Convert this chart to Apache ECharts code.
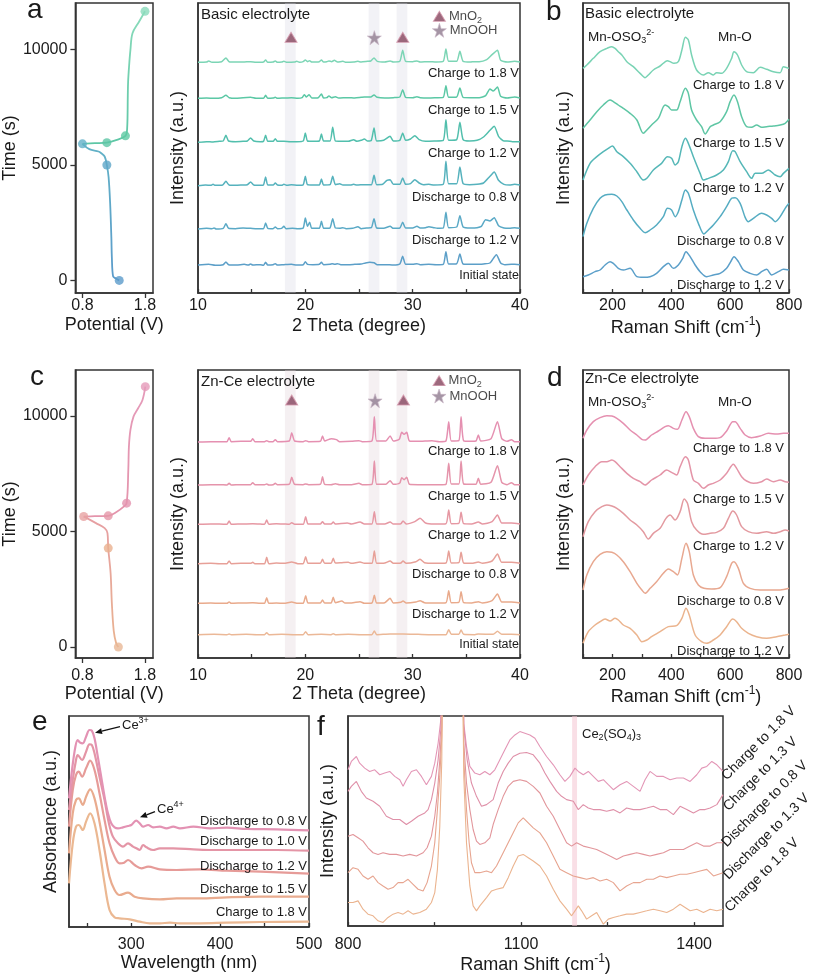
<!DOCTYPE html>
<html><head><meta charset="utf-8">
<script src="https://cdn.jsdelivr.net/npm/echarts/dist/echarts.min.js"></script>
<style>html,body{margin:0;padding:0;background:#fff}#c{width:813px;height:975px}</style>
</head><body><div id="c"></div>
<script>
// ---------------- DATA ----------------
// Panel a / c : potential (V) vs time (s)
const potA_discharge = [[1.388,0],[1.33,90],[1.29,173],[1.27,1000],[1.262,1873],[1.243,3314],[1.218,4467],[1.19,4990],[1.155,5360],[1.10,5500],[1.057,5576],[0.91,5677],[0.8,5907]];
const potA_charge = [[0.8,5907],[1.0,5935],[1.19,5960],[1.35,6080],[1.487,6253],[1.515,6600],[1.525,8000],[1.53,8600],[1.545,9250],[1.567,9970],[1.60,10690],[1.7,11170],[1.8,11640]];
const potA_points = [[1.388,0],[1.19,4990],[0.8,5907],[1.19,5960],[1.487,6253],[1.8,11640]];
const potC_discharge = [[1.374,0],[1.34,150],[1.30,700],[1.27,1900],[1.25,3200],[1.212,4278],[1.20,4926],[1.155,5143],[1.016,5359],[0.87,5575],[0.82,5644]];
const potC_charge = [[0.82,5644],[1.0,5660],[1.212,5674],[1.35,5850],[1.45,6050],[1.506,6223],[1.533,7662],[1.543,8670],[1.567,9390],[1.616,9965],[1.69,10327],[1.76,10687],[1.805,11262]];
const potC_points = [[1.374,0],[1.212,4278],[0.82,5644],[1.212,5674],[1.506,6223],[1.805,11262]];

// XRD labels (bottom -> top)
const xrdLabels = ['Initial state','Discharge to 1.2 V','Discharge to 0.8 V','Charge to 1.2 V','Charge to 1.5 V','Charge to 1.8 V'];
// Panel a XRD (Basic electrolyte): [2theta, intensity above own baseline]
const xrdA_offsets = [82,190,320,450,582,690];
const xrdA_initial = [[10,2],[11.0,4],[11.6,1],[12.35,3],[12.6,11],[12.85,3],[13.6,2],[14.3,4],[14.7,2],[14.9,5],[15.1,2],[15.8,3],[16.1,1],[16.3,10],[16.5,2],[17.0,3],[17.2,6],[17.4,2],[18.0,3],[18.7,4],[19.2,2],[19.8,3],[20.0,12],[20.2,4],[20.7,3],[21.3,4],[21.5,10],[21.7,3],[22.3,4],[22.5,6],[22.75,4],[23.0,6],[23.3,3],[24.0,3],[24.6,4],[25.2,5],[25.6,8],[26.0,10],[26.4,9],[26.7,3],[27.5,3],[28.2,2],[28.8,5],[29.07,28],[29.35,4],[30.0,4],[30.4,6],[30.7,3],[31.5,4],[32.2,3],[32.85,4],[33.1,42],[33.35,5],[34.1,6],[34.4,35],[34.7,5],[35.5,4],[36.3,4],[36.6,5],[37.2,8],[37.8,33],[38.2,8],[38.6,3],[39.2,4],[39.5,4],[40,3]];
const xrdA_dis12 = [[10,2],[10.8,4],[11.3,3],[11.5,5],[11.7,2],[12.35,4],[12.6,18],[12.85,4],[13.5,3],[14.2,5],[14.9,4],[15.5,3],[16.1,3],[16.3,20],[16.5,4],[17.0,3],[17.2,8],[17.4,3],[17.8,4],[18.0,10],[18.2,3],[18.8,4],[19.3,3],[19.8,5],[20.0,35],[20.2,10],[20.4,22],[20.6,4],[21.3,4],[21.5,25],[21.7,4],[22.0,4],[22.3,5],[22.55,33],[22.8,5],[23.2,4],[23.5,6],[23.8,3],[24.4,4],[24.9,9],[25.2,3],[25.7,5],[26.15,6],[26.4,33],[26.65,5],[27.3,4],[27.9,10],[28.2,4],[28.8,5],[29.07,22],[29.35,5],[30.0,5],[30.4,10],[30.7,5],[31.2,6],[31.5,9],[32.0,6],[32.3,4],[32.85,5],[33.1,52],[33.35,6],[34.1,8],[34.4,42],[34.7,8],[35.4,5],[36.0,6],[36.4,10],[36.8,30],[37.2,26],[37.6,36],[38.0,12],[38.5,5],[39.0,4],[39.5,6],[40,4]];
const xrdA_dis08 = [[10,2],[10.7,4],[11.2,3],[11.4,6],[11.6,3],[12.3,4],[12.6,15],[12.9,4],[13.5,3],[14.1,4],[14.6,5],[14.9,13],[15.2,4],[15.8,3],[16.1,4],[16.3,28],[16.5,4],[17.0,4],[17.2,10],[17.4,4],[17.8,3],[18.0,6],[18.3,3],[18.7,5],[19.3,3],[19.8,5],[20.0,30],[20.2,5],[20.7,4],[21.3,4],[21.5,22],[21.7,4],[22.3,5],[22.55,30],[22.8,5],[23.2,8],[23.5,4],[24.2,4],[24.5,6],[24.8,4],[25.5,5],[26.15,5],[26.4,33],[26.65,5],[27.2,6],[27.6,18],[27.9,20],[28.2,6],[28.8,6],[29.07,25],[29.35,6],[29.8,8],[30.2,20],[30.6,10],[31.0,5],[31.5,6],[32.0,4],[32.85,6],[33.1,75],[33.35,8],[34.1,8],[34.4,58],[34.7,8],[35.3,5],[36.0,6],[36.6,10],[37.2,30],[37.6,43],[38.0,18],[38.5,6],[39.0,4],[39.5,6],[40,4]];
const xrdA_ch12 = [[10,2],[10.8,4],[11.4,3],[12.0,5],[12.35,6],[12.6,23],[12.85,6],[13.5,4],[14.2,5],[14.6,6],[14.9,15],[15.2,6],[15.8,4],[16.1,5],[16.3,23],[16.5,5],[17.0,5],[17.2,13],[17.4,5],[18.0,5],[18.6,4],[19.2,4],[19.8,6],[20.0,30],[20.2,6],[20.7,5],[21.3,6],[21.5,27],[21.7,6],[22.3,6],[22.55,47],[22.8,6],[23.3,5],[24.0,5],[24.5,10],[24.8,5],[25.2,8],[25.5,12],[25.8,6],[26.15,8],[26.4,45],[26.65,6],[27.3,8],[27.9,20],[28.2,6],[28.8,8],[29.07,30],[29.35,8],[29.8,12],[30.2,22],[30.6,10],[31.2,5],[32.0,6],[32.85,8],[33.1,70],[33.35,8],[34.1,10],[34.4,62],[34.7,10],[35.3,6],[36.0,8],[36.6,18],[37.2,38],[37.6,50],[38.0,20],[38.5,6],[38.8,6],[39.3,4],[40,4]];
const xrdA_ch15 = [[10,2],[10.8,3],[11.5,2],[12.2,4],[12.6,11],[12.9,4],[13.5,2],[14.2,4],[14.9,5],[15.4,2],[16.1,2],[16.3,11],[16.5,2],[17.0,3],[17.2,5],[17.4,2],[18.0,3],[18.7,4],[19.3,2],[19.7,4],[19.9,13],[20.1,6],[20.35,13],[20.6,3],[21.2,4],[21.5,15],[21.7,3],[22.0,4],[22.2,9],[22.45,4],[22.8,7],[23.1,3],[24.0,4],[24.6,3],[25.2,5],[25.5,6],[26.1,6],[26.4,12],[26.7,5],[27.4,3],[28.2,4],[28.8,6],[29.07,28],[29.35,5],[30.0,4],[30.4,7],[30.7,4],[31.5,3],[32.2,4],[32.85,5],[33.1,40],[33.35,5],[34.1,6],[34.4,33],[34.7,5],[35.4,4],[36.2,4],[36.8,10],[37.2,30],[37.5,24],[37.9,36],[38.2,8],[38.8,3],[39.5,6],[40,3]];
const xrdA_ch18 = [[10,2],[10.8,3],[11.0,6],[11.3,2],[12.2,4],[12.6,15],[12.9,4],[13.5,3],[14.2,3],[14.9,4],[15.4,2],[16.1,3],[16.3,9],[16.5,2],[17.0,3],[17.2,6],[17.4,2],[17.8,3],[18.0,5],[18.3,2],[19.0,3],[19.2,5],[19.5,2],[19.8,4],[20.0,9],[20.2,4],[20.4,7],[20.6,3],[21.3,4],[21.5,9],[21.7,3],[22.0,4],[22.2,6],[22.45,4],[22.7,8],[23.0,3],[23.5,5],[23.8,2],[24.5,3],[24.9,5],[25.2,3],[25.8,5],[26.1,6],[26.4,15],[26.7,5],[27.4,3],[27.9,6],[28.2,3],[28.8,5],[29.07,38],[29.35,5],[30.0,4],[30.4,6],[30.7,3],[31.5,4],[32.2,3],[32.85,5],[33.1,42],[33.35,5],[34.1,5],[34.4,35],[34.7,5],[35.4,3],[35.7,4],[36.2,4],[36.9,10],[37.4,25],[37.9,38],[38.2,8],[38.8,3],[39.5,5],[40,3]];
// Panel c XRD (Zn-Ce electrolyte)
const xrdC_offsets = [69,162,281,399,517,646];
const xrdC_initial = [[10,1],[11.5,2],[12.7,1],[12.9,3],[13.1,1],[14.5,2],[15.5,1],[16.2,1],[16.4,7],[16.6,1],[17.8,2],[19.0,1],[19.8,1],[20.03,10],[20.25,1],[21.5,2],[22.4,1],[22.6,4],[22.8,1],[24.0,2],[25.2,1],[26.2,1],[26.43,12],[26.65,1],[27.9,3],[29.1,3],[30.5,2],[31.8,1],[33.1,1],[33.36,16],[33.6,2],[34.3,2],[34.51,15],[34.75,2],[35.8,1],[36.1,3],[37.5,2],[37.9,11],[38.3,2],[39.2,2],[40,1]];
const xrdC_dis12 = [[10,2],[11.2,3],[12.0,2],[12.7,2],[12.9,6],[13.1,2],[14.0,3],[15.1,4],[15.8,2],[16.2,2],[16.4,19],[16.6,2],[17.3,3],[18.0,2],[18.73,6],[19.3,2],[19.8,2],[20.03,25],[20.25,3],[21.0,3],[21.4,3],[21.6,12],[21.8,3],[22.4,3],[22.6,20],[22.8,4],[23.4,9],[23.7,3],[24.3,3],[25.1,7],[25.5,2],[26.2,3],[26.43,26],[26.65,3],[27.4,4],[27.9,17],[28.2,3],[28.9,5],[29.1,9],[29.4,3],[30.3,6],[30.69,10],[31.1,4],[32.0,3],[33.1,4],[33.36,40],[33.6,4],[34.3,5],[34.51,37],[34.75,4],[35.5,3],[36.12,7],[36.5,3],[37.4,10],[37.9,30],[38.3,6],[39.2,6],[40,3]];
const xrdC_dis08 = [[10,2],[11.2,3],[12.0,2],[12.7,2],[12.9,10],[13.1,2],[14.0,3],[14.9,3],[15.1,6],[15.3,2],[16.2,2],[16.4,21],[16.6,2],[17.3,4],[18.0,3],[18.73,7],[19.3,2],[19.8,2],[20.03,23],[20.25,3],[21.0,3],[21.4,3],[21.6,15],[21.8,3],[22.4,3],[22.6,18],[22.8,4],[23.4,5],[24.0,6],[24.3,3],[25.1,7],[25.5,3],[26.2,3],[26.43,40],[26.65,3],[27.4,4],[27.9,10],[28.2,3],[28.9,4],[29.1,10],[29.4,3],[30.3,8],[30.69,15],[31.1,5],[32.0,3],[33.1,4],[33.36,40],[33.6,4],[34.3,5],[34.51,36],[34.75,4],[35.5,3],[36.12,7],[36.5,3],[37.4,10],[37.9,31],[38.3,6],[39.2,6],[40,3]];
const xrdC_ch12 = [[10,2],[11.2,3],[12.0,3],[12.7,2],[12.9,12],[13.1,2],[14.0,3],[15.1,4],[15.8,3],[16.2,2],[16.4,15],[16.6,2],[17.3,4],[18.0,3],[18.5,2],[18.73,7],[19.0,2],[19.8,2],[20.03,25],[20.25,3],[21.0,3],[21.4,3],[21.6,10],[21.8,3],[22.4,3],[22.6,9],[22.8,3],[23.9,6],[24.3,3],[25.1,9],[25.5,3],[26.2,3],[26.43,40],[26.65,3],[27.4,3],[27.9,9],[28.2,3],[28.9,4],[29.1,12],[29.4,3],[30.2,10],[30.69,20],[31.2,6],[32.0,3],[33.1,4],[33.36,45],[33.6,4],[34.3,5],[34.51,38],[34.75,4],[35.5,3],[36.12,9],[36.5,3],[37.4,10],[37.9,30],[38.3,6],[39.2,6],[40,3]];
const xrdC_ch15 = [[10,2],[11.2,3],[12.0,3],[12.7,2],[12.9,7],[13.1,2],[14.0,3],[14.9,3],[15.1,9],[15.3,3],[16.2,3],[16.4,5],[16.6,2],[17.0,3],[17.2,7],[17.4,3],[18.5,4],[18.73,25],[19.0,4],[19.8,3],[20.03,5],[20.3,3],[21.4,4],[21.6,27],[21.8,4],[22.4,3],[22.8,6],[23.2,3],[24.3,3],[25.0,7],[25.3,3],[26.2,4],[26.43,74],[26.65,4],[27.5,4],[27.9,15],[28.2,4],[28.8,8],[28.98,24],[29.2,18],[29.45,25],[29.7,4],[30.5,3],[31.5,3],[32.5,3],[33.1,4],[33.36,67],[33.6,5],[34.3,5],[34.51,74],[34.75,5],[35.5,4],[35.9,4],[36.12,22],[36.35,4],[37.3,10],[37.9,60],[38.3,10],[38.8,3],[39.2,9],[39.5,3],[40,3]];
const xrdC_ch18 = [[10,2],[11.2,3],[12.0,3],[12.7,3],[12.9,15],[13.1,3],[14.0,4],[14.9,4],[15.1,12],[15.3,3],[16.2,3],[16.4,6],[16.6,3],[17.0,3],[17.2,9],[17.4,3],[18.5,5],[18.73,30],[19.0,5],[19.8,3],[20.03,6],[20.3,3],[21.4,4],[21.6,20],[21.8,5],[22.2,10],[22.4,12],[22.9,9],[23.2,3],[24.3,4],[25.0,6],[25.3,3],[26.2,5],[26.43,78],[26.65,5],[27.5,5],[27.9,20],[28.2,5],[28.75,10],[28.98,31],[29.2,25],[29.45,31],[29.7,5],[30.5,4],[31.8,6],[32.5,3],[33.1,5],[33.36,63],[33.6,5],[34.3,6],[34.51,78],[34.75,6],[35.5,4],[35.9,5],[36.12,23],[36.35,5],[37.3,12],[37.9,63],[38.3,12],[38.8,4],[39.2,9],[39.5,3],[40,3]];
// Phase markers (2theta)
const mno2PeaksA = [[18.67,767],[29.08,767]];
const mnoohPeaksA = [[26.43,766]];
const mno2PeaksC = [[18.73,774],[29.14,774]];
const mnoohPeaksC = [[26.5,772]];

// Raman (panels b, d), top -> bottom labels
const ramanLabels = ['Charge to 1.8 V','Charge to 1.5 V','Charge to 1.2 V','Discharge to 0.8 V','Discharge to 1.2 V'];
const ramB_C18_x = [100,113,135,158,181,198,209,220,232,249,271,294,311,322,339,362,387,396,409,424,436,448,458,469,486,509,526,543,554,571,588,605,613,625,639,656,679,702,724,747,770,781,800];
const ramB_C18_y = [674,684,704,724,734,739,734,724,714,694,679,659,646,654,669,681,697,694,689,694,729,767,759,714,669,654,661,654,661,659,674,704,724,714,684,664,661,677,671,664,661,679,674];
const ramB_C15_x = [100,124,147,169,192,203,220,237,260,283,305,317,333,356,379,390,401,418,430,448,458,469,486,503,515,532,543,566,588,600,613,625,639,656,673,690,707,724,747,770,787,800];
const ramB_C15_y = [494,519,544,564,579,574,564,554,539,519,479,489,504,524,564,559,549,549,574,614,599,549,519,499,477,499,504,514,544,574,594,574,529,499,497,504,497,499,501,504,509,521];
const ramB_C12_x = [100,124,147,169,186,200,215,237,260,283,305,317,339,367,387,401,413,424,436,448,458,475,498,509,526,554,577,594,609,617,634,656,673,685,707,730,753,770,781,800];
const ramB_C12_y = [339,389,409,424,434,441,424,409,389,364,339,344,369,389,409,404,384,394,439,464,449,409,359,339,344,354,369,394,427,424,394,364,344,359,359,369,354,349,359,374];
const ramB_D08_x = [100,113,135,158,175,198,215,232,249,271,294,311,328,350,373,387,401,413,424,436,448,458,475,492,511,526,543,566,588,605,617,634,651,662,679,707,724,741,753,770,787,800];
const ramB_D08_y = [169,209,254,284,294,296,291,274,249,219,194,181,189,204,229,254,249,229,244,279,309,299,249,209,177,189,204,229,259,284,286,269,227,214,224,239,234,224,214,229,254,269];
const ramB_D12_x = [100,118,141,158,175,192,203,220,237,260,283,305,328,350,373,390,407,424,439,450,464,481,498,520,543,566,588,602,613,628,645,668,690,707,724,741,764,781,800];
const ramB_D12_y = [49,54,64,69,84,94,89,74,69,74,49,47,49,59,79,89,74,84,104,124,109,84,64,49,54,59,74,94,109,94,69,59,54,64,71,54,64,71,69];
const ramD_C18_x = [100,113,135,158,181,198,215,237,260,283,300,311,333,356,379,390,407,421,436,450,461,475,492,515,543,566,588,609,617,634,651,673,702,730,758,781,800];
const ramD_C18_y = [659,684,709,721,727,726,719,704,684,669,656,654,669,681,694,697,689,686,714,739,724,689,664,659,659,661,681,709,709,689,669,661,666,674,672,674,674];
const ramD_C15_x = [100,118,141,164,181,198,209,226,249,271,294,311,333,362,384,401,418,430,448,458,475,492,509,526,543,566,588,611,622,639,656,679,707,724,747,770,787,800];
const ramD_C15_y = [519,549,574,589,589,594,589,574,554,539,529,519,534,549,564,557,549,574,604,594,534,524,509,519,524,534,554,581,569,544,531,524,529,537,529,534,529,527];
const ramD_C12_x = [100,118,141,164,181,198,215,237,260,283,305,322,339,362,382,396,413,430,444,455,469,486,509,532,554,577,594,609,622,639,662,690,724,747,770,787,800];
const ramD_C12_y = [364,409,439,454,459,456,449,434,414,399,379,357,374,389,419,429,414,439,477,464,409,384,371,374,377,389,419,441,429,394,379,374,379,374,379,384,381];
const ramD_D08_x = [100,113,135,158,181,198,215,237,260,283,300,311,328,350,373,390,407,421,436,450,461,475,492,511,537,566,588,605,613,628,645,668,702,736,770,800];
const ramD_D08_y = [204,249,289,311,319,317,309,289,259,224,204,194,209,229,254,267,259,249,299,344,319,249,219,209,207,211,244,284,289,269,224,209,204,204,204,209];
const ramD_D12_x = [100,118,141,158,175,192,209,220,237,260,283,300,317,333,362,390,418,436,450,461,481,503,520,543,566,588,609,622,639,662,690,724,758,787,800];
const ramD_D12_y = [44,79,99,109,117,111,119,114,99,89,69,49,54,64,79,94,97,119,149,129,69,49,44,54,69,94,117,109,89,74,64,59,64,69,71];

// Panel e UV-vis: [wavelength nm, absorbance a.u.] ; labels bottom -> top
const uvLabels = ['Charge to 1.8 V','Discharge to 1.5 V','Discharge to 1.2 V','Discharge to 1.0 V','Discharge to 0.8 V'];
const uv_C18 = [[230,131],[234.2,251],[237.9,301],[241,306],[245.5,291],[249.2,316],[253.8,341],[258.7,311],[264.3,231],[270,131],[275.6,51],[281.3,29],[286.9,26],[298.3,23],[309.6,16],[320.9,11],[332.2,11],[343.5,13],[354.8,11],[377.4,11],[407.6,13],[445.3,15],[500,16]];
const uv_D15 = [[230,221],[234.2,341],[237.9,381],[241,386],[245.5,366],[249.2,391],[253.8,413],[258.7,386],[264.3,316],[270,231],[275.6,151],[281.3,111],[286.9,96],[296.4,103],[303.9,91],[313.3,86],[332.2,83],[351,86],[377.4,86],[407.6,89],[445.3,91],[500,91]];
const uv_D12 = [[230,301],[234.2,411],[237.9,456],[241,466],[244.7,451],[249.2,476],[253.8,499],[258.7,471],[264.3,401],[270,321],[275.6,251],[281.3,211],[286.9,191],[292,193],[296.4,201],[303.9,186],[311.5,176],[319,181],[332.2,173],[351,171],[377.4,173],[407.6,169],[445.3,166],[500,160]];
const uv_D10 = [[230,351],[234.2,441],[237.9,501],[239.8,516],[244.7,501],[249.2,526],[253,548],[255.7,546],[258.7,521],[264.3,451],[270,381],[274.9,311],[279.4,271],[285.1,251],[290.7,241],[296.4,251],[302,241],[305.8,236],[309.6,231],[313.3,246],[317.1,239],[324.6,231],[332.2,236],[347.3,236],[369.9,233],[392.5,231],[426.4,231],[464.1,231],[500,229]];
const uv_D08 = [[230,386],[233.4,471],[237.2,541],[239.8,561],[242.5,553],[245.5,551],[249.2,571],[253,591],[255.7,589],[258.7,566],[262.4,511],[266.2,451],[270,391],[273.8,341],[277.5,311],[281.3,299],[285.1,296],[290.7,299],[296.4,303],[300.1,306],[305.5,319],[309.6,311],[313.3,301],[319,306],[324.6,299],[332.2,301],[339.7,296],[347.3,301],[354.8,296],[369.9,301],[388.7,296],[407.6,298],[430.2,294],[464.1,293],[500,290]];

// Panel f Raman: [shift cm-1, intensity], labels top -> bottom
const ramFLabels = ['Charge to 1.8 V','Charge to 1.3 V','Discharge to 0.8 V','Discharge to 1.3 V','Charge to 1.8 V'];
const ramF_1 = [[800,471],[805.8,496],[814.5,511],[820.2,491],[828.9,476],[837.6,466],[846.3,471],[855,456],[863.6,461],[872.3,466],[881,451],[889.7,441],[895.5,421],[901.2,441],[909.9,466],[918.6,471],[927.3,451],[935.9,426],[944.6,451],[950.4,491],[956.2,551],[960.8,621],[966,1300],[995.5,1300],[1000.7,611],[1005.4,541],[1011.2,481],[1019.8,461],[1028.5,456],[1037.2,466],[1045.9,456],[1054.5,471],[1063.2,501],[1071.9,531],[1080.6,561],[1089.3,576],[1097.9,586],[1106.6,581],[1115.3,576],[1124,566],[1132.6,541],[1144.2,511],[1155.8,486],[1167.3,456],[1176,436],[1184.7,451],[1193.4,476],[1199.2,466],[1207.8,456],[1216.5,466],[1225.2,451],[1233.9,436],[1242.6,441],[1251.2,426],[1259.9,411],[1271.5,426],[1283,436],[1294.6,421],[1306.2,406],[1314.9,441],[1323.5,466],[1335.1,451],[1346.7,451],[1358.3,441],[1369.8,446],[1381.4,446],[1393,436],[1404.5,456],[1413.2,476],[1421.9,481],[1430.6,496],[1439.3,486],[1450,466]];
const ramF_2 = [[800,406],[805.8,421],[814.5,436],[823.1,406],[831.8,386],[843.4,376],[855,361],[866.5,331],[878.1,321],[889.7,321],[901.2,306],[909.9,316],[921.5,331],[933.1,341],[938.8,351],[944.6,381],[950.4,431],[956.2,501],[960.8,591],[966,1300],[995.5,1300],[1000.7,601],[1006.5,501],[1014,431],[1022.7,391],[1031.4,361],[1040.1,366],[1051.6,381],[1060.3,431],[1069,466],[1077.7,491],[1086.4,511],[1097.9,521],[1109.5,523],[1121.1,516],[1132.6,491],[1141.3,461],[1150,436],[1161.6,406],[1170.2,391],[1178.9,381],[1190.5,376],[1199.2,351],[1207.8,366],[1216.5,356],[1225.2,351],[1236.8,351],[1248.3,346],[1259.9,351],[1271.5,341],[1283,356],[1294.6,351],[1306.2,351],[1317.8,356],[1329.3,361],[1340.9,351],[1352.5,351],[1364,336],[1375.6,361],[1387.2,351],[1398.7,341],[1410.3,351],[1419,351],[1427.7,356],[1439.3,366],[1450,396]];
const ramF_3 = [[800,271],[808.7,276],[817.4,266],[826,256],[834.7,236],[843.4,221],[852.1,216],[860.7,221],[872.3,216],[883.9,216],[895.5,211],[907,216],[918.6,211],[930.2,221],[937.1,236],[944.6,271],[950.4,331],[955,401],[959.1,501],[962.6,601],[966,1300],[995.5,1300],[1000.7,551],[1005.4,431],[1011.2,351],[1016.9,291],[1022.7,256],[1028.5,246],[1037.2,251],[1045.9,266],[1051.6,306],[1060.3,351],[1069,391],[1077.7,421],[1086.4,436],[1097.9,441],[1109.5,436],[1121.1,421],[1132.6,401],[1144.2,361],[1155.8,331],[1167.3,291],[1178.9,251],[1187.6,241],[1196.3,251],[1207.8,241],[1219.4,236],[1231,231],[1242.6,221],[1254.1,211],[1265.7,201],[1277.3,211],[1288.8,216],[1300.4,221],[1312,216],[1323.5,211],[1335.1,216],[1346.7,221],[1358.3,231],[1369.8,231],[1381.4,231],[1393,241],[1404.5,251],[1416.1,241],[1427.7,241],[1439.3,251],[1450,251]];
const ramF_4 = [[800,161],[808.7,176],[817.4,171],[826,151],[834.7,141],[843.4,151],[852.1,131],[860.7,121],[869.4,111],[878.1,116],[886.8,131],[895.5,131],[904.1,141],[912.8,126],[921.5,111],[930.2,106],[937.1,131],[944.6,181],[950.4,251],[955,351],[959.1,451],[962.6,571],[966,1300],[995.5,1300],[1000.7,501],[1005.4,351],[1010,251],[1014,191],[1019.8,161],[1028.5,161],[1040.1,166],[1048.8,161],[1057.4,181],[1069,221],[1077.7,251],[1086.4,281],[1095,311],[1103.7,326],[1112.4,311],[1121.1,296],[1132.6,281],[1144.2,251],[1155.8,211],[1167.3,171],[1178.9,161],[1190.5,151],[1202.1,146],[1213.6,141],[1225.2,146],[1236.8,136],[1248.3,141],[1259.9,131],[1271.5,106],[1283,121],[1294.6,131],[1306.2,131],[1317.8,141],[1329.3,141],[1340.9,151],[1352.5,146],[1364,151],[1375.6,156],[1387.2,156],[1398.7,161],[1410.3,166],[1421.9,171],[1433.5,151],[1450,161]];
const ramF_5 = [[800,71],[808.7,71],[817.4,76],[826,51],[834.7,36],[843.4,31],[852.1,16],[860.7,11],[869.4,26],[878.1,36],[886.8,41],[895.5,36],[904.1,46],[912.8,36],[924.4,41],[935.9,51],[944.6,71],[950.4,101],[955,171],[959.1,301],[962.6,501],[966,1300],[995.5,1300],[1000.7,451],[1005.4,251],[1011.2,121],[1016.9,61],[1022.7,46],[1028.5,61],[1040.1,86],[1048.8,106],[1057.4,111],[1069,116],[1077.7,146],[1086.4,181],[1095,211],[1103.7,216],[1112.4,206],[1121.1,196],[1132.6,181],[1144.2,151],[1155.8,111],[1167.3,76],[1178.9,51],[1187.6,31],[1193.4,46],[1199.2,61],[1205,46],[1213.6,21],[1222.3,31],[1231,41],[1242.6,6],[1251.2,21],[1259.9,26],[1271.5,31],[1283,36],[1294.6,36],[1306.2,41],[1317.8,46],[1329.3,51],[1340.9,46],[1352.5,41],[1364,51],[1375.6,66],[1384.3,56],[1393,46],[1404.5,51],[1416.1,41],[1427.7,51],[1439.3,46],[1450,51]];
const ceSulfateBand = [1188.5, 1197];
const xrdBands = [[18.1,19.1],[25.9,26.9],[28.5,29.5]];

// ---------------- STYLE / LAYOUT ----------------
const FF = '"Liberation Sans", Arial, Helvetica, sans-serif';
const INK = '#1a1a1a', FRAME = '#333';
const chart = echarts.init(document.getElementById('c'), null, {renderer:'canvas', width:813, height:975});

const grids = [[69,3,84,290],[198,3,322,290],[583,3,206,290],[69,370,84,288],[198,370,322,288],[583,370,206,288],[69,716,240,211],[348,716,375,211]];
const plain = v => String(v);

function richSet(fs){
  const s = Math.round(fs*0.68);
  return {
    n:{fontSize:fs,fontFamily:FF,color:INK,fill:INK},
    sub:{fontSize:s,fontFamily:FF,color:INK,fill:INK,padding:[Math.round(fs*0.6),0,0,0]},
    sup:{fontSize:s,fontFamily:FF,color:INK,fill:INK,padding:[0,0,Math.round(fs*0.65),0]}
  };
}
function xAx(gi,min,max,ticks,labels,o){
  return {type:'value',gridIndex:gi,min,max,
    axisLine:{show:true,onZero:false,lineStyle:{color:FRAME,width:1.5}},
    axisTick:{show:true,inside:o.inside,length:o.tl||4,customValues:ticks,lineStyle:{color:FRAME,width:1.3}},
    axisLabel:{show:true,customValues:labels,margin:o.margin,fontSize:16,color:INK,fontFamily:FF,formatter:plain},
    splitLine:{show:false},
    name:o.name,nameLocation:'middle',nameGap:o.gap,
    nameTextStyle:{fontSize:18,color:INK,fontFamily:FF,rich:richSet(18)}};
}
function yAx(gi,min,max,o){
  const a = {type:'value',gridIndex:gi,min,max,
    axisLine:{show:true,onZero:false,lineStyle:{color:FRAME,width:1.5}},
    axisTick:{show:false},axisLabel:{show:false},splitLine:{show:false},
    name:o.name,nameLocation:'middle',nameGap:o.gap,nameRotate:90,
    nameTextStyle:{fontSize:18,color:INK,fontFamily:FF}};
  if (o.ticks){
    a.axisTick = {show:true,inside:false,length:5,customValues:o.ticks,lineStyle:{color:FRAME,width:1.3}};
    a.axisLabel = {show:true,customValues:o.ticks,margin:8,fontSize:16,color:INK,fontFamily:FF,formatter:plain};
  }
  return a;
}
const ramanName = '{n|Raman Shift (cm}{sup|-1}{n|)}';
const xAxes = [
  xAx(0,0.687,1.928,[0.8,1.8],[0.8,1.8],{inside:false,tl:5,margin:5,name:'Potential (V)',gap:23}),
  xAx(1,10,40,[10,15,20,25,30,35,40],[10,20,30,40],{inside:true,margin:5,name:'2 Theta (degree)',gap:24}),
  xAx(2,100,800,[100,200,300,400,500,600,700,800],[200,400,600,800],{inside:true,margin:5,name:ramanName,gap:23}),
  xAx(3,0.687,1.928,[0.8,1.8],[0.8,1.8],{inside:false,tl:5,margin:10,name:'Potential (V)',gap:25}),
  xAx(4,10,40,[10,15,20,25,30,35,40],[10,20,30,40],{inside:true,margin:10,name:'2 Theta (degree)',gap:27}),
  xAx(5,100,800,[100,200,300,400,500,600,700,800],[200,400,600,800],{inside:true,margin:10,name:ramanName,gap:26}),
  xAx(6,230,500,[250,300,350,400,450,500],[300,400,500],{inside:true,margin:10,name:'Wavelength (nm)',gap:25}),
  xAx(7,800,1450,[800,950,1100,1250,1400],[800,1100,1400],{inside:true,margin:10,name:ramanName,gap:24})
];
const yAxes = [
  yAx(0,-545,12000,{name:'Time (s)',gap:49,ticks:[0,5000,10000]}),
  yAx(1,0,870,{name:'Intensity (a.u.)',gap:11}),
  yAx(2,0,870,{name:'Intensity (a.u.)',gap:10}),
  yAx(3,-475,11983,{name:'Time (s)',gap:48,ticks:[0,5000,10000]}),
  yAx(4,0,864,{name:'Intensity (a.u.)',gap:11}),
  yAx(5,0,864,{name:'Intensity (a.u.)',gap:10}),
  yAx(6,0,633,{name:'Absorbance (a.u.)',gap:9}),
  yAx(7,0,633,{name:'Intensity (a.u.)',gap:11})
];

function line(gi,data,color,width,smooth,extra){
  return Object.assign({type:'line',xAxisIndex:gi,yAxisIndex:gi,data,showSymbol:false,symbol:'none',
    smooth:smooth||false,lineStyle:{color,width},clip:true,silent:true,z:3},extra||{});
}
const grad = (c0,c1)=>({type:'linear',x:0,y:1,x2:0,y2:0,colorStops:[{offset:0,color:c0},{offset:1,color:c1}]});
const shift = (arr,off)=>arr.map(p=>[p[0],p[1]+off]);
const zip = (xs,ys)=>xs.map((x,i)=>[x,ys[i]]);

const series = [];
// Panel a potential
series.push(line(0,potA_discharge,grad('#5b9bcb','#62b2c6'),1.8,0.35));
series.push(line(0,potA_charge,grad('#5cc6a5','#8adbbb'),1.8,0.35));
series.push({type:'scatter',xAxisIndex:0,yAxisIndex:0,symbolSize:9,z:5,silent:true,
  data:potA_points.map((p,i)=>({value:p,itemStyle:{color:['#5b9bcb','#5fa6c8','#62b0c8','#5cc6a5','#5ec9a3','#8adbbb'][i]}}))});
// Panel c potential
series.push(line(3,potC_discharge,grad('#e9b38f','#e69ea3'),1.8,0.35));
series.push(line(3,potC_charge,grad('#e494ab','#e59bba'),1.8,0.35));
series.push({type:'scatter',xAxisIndex:3,yAxisIndex:3,symbolSize:9,z:5,silent:true,
  data:potC_points.map((p,i)=>({value:p,itemStyle:{color:['#e9b896','#eab08f','#e7a2a2','#e596a8','#e392ae','#e59ab9'][i]}}))});

// XRD
const xrdA = [xrdA_initial,xrdA_dis12,xrdA_dis08,xrdA_ch12,xrdA_ch15,xrdA_ch18];
const xrdAColors = ['#5c9fc8','#5aa9c6','#56b2bd','#52bfad','#5bc8a5','#7cd5b5'];
xrdA.forEach((d,i)=>series.push(line(1,shift(d,xrdA_offsets[i]),xrdAColors[i],1.5,0.2)));
const xrdC = [xrdC_initial,xrdC_dis12,xrdC_dis08,xrdC_ch12,xrdC_ch15,xrdC_ch18];
const xrdCColors = ['#ebb897','#e9aa8c','#e7a098','#e698a3','#e594ab','#e590b1'];
xrdC.forEach((d,i)=>series.push(line(4,shift(d,xrdC_offsets[i]),xrdCColors[i],1.5,0.2)));
// shaded bands
series.push({type:'line',xAxisIndex:1,yAxisIndex:1,data:[],silent:true,z:1,
  markArea:{silent:true,itemStyle:{color:'rgba(214,214,226,0.32)'},data:xrdBands.map(b=>[{xAxis:b[0]},{xAxis:b[1]}])}});
series.push({type:'line',xAxisIndex:4,yAxisIndex:4,data:[],silent:true,z:1,
  markArea:{silent:true,itemStyle:{color:'rgba(226,214,220,0.36)'},data:xrdBands.map(b=>[{xAxis:b[0]},{xAxis:b[1]}])}});
// markers
const STAR = 'path://M50,0 L61.8,35.1 L97.6,35.1 L68.5,56.7 L79.4,91.9 L50,70.2 L20.6,91.9 L31.5,56.7 L2.4,35.1 L38.2,35.1 Z';
const triStyle = {color:'#84445c',borderColor:'#d497ab',borderWidth:1};
const starStyle = {color:'#8e7b8f',borderColor:'#c9b7c7',borderWidth:0.8};
function markers(gi,tri,star,legTri,legStar){
  const lab = (txt)=>({show:true,position:'right',distance:3,formatter:txt,rich:richSet(13),color:INK,fontFamily:FF,fontSize:13});
  series.push({type:'scatter',xAxisIndex:gi,yAxisIndex:gi,symbol:'triangle',symbolSize:[12,10],itemStyle:triStyle,data:tri,silent:true,z:6});
  series.push({type:'scatter',xAxisIndex:gi,yAxisIndex:gi,symbol:STAR,symbolSize:14,itemStyle:starStyle,data:star,silent:true,z:6});
  series.push({type:'scatter',xAxisIndex:gi,yAxisIndex:gi,symbol:'triangle',symbolSize:[12,10],itemStyle:triStyle,data:[legTri],silent:true,z:6,label:lab('{n|MnO}{sub|2}')});
  series.push({type:'scatter',xAxisIndex:gi,yAxisIndex:gi,symbol:STAR,symbolSize:14,itemStyle:starStyle,data:[legStar],silent:true,z:6,label:lab('{n|MnOOH}')});
}
markers(1,mno2PeaksA,mnoohPeaksA,[32.49,830],[32.49,788]);
markers(4,mno2PeaksC,mnoohPeaksC,[32.46,832],[32.46,786]);

// Raman b, d (top -> bottom order)
const ramB = [[ramB_C18_x,ramB_C18_y],[ramB_C15_x,ramB_C15_y],[ramB_C12_x,ramB_C12_y],[ramB_D08_x,ramB_D08_y],[ramB_D12_x,ramB_D12_y]];
const ramBColors = ['#79d3b4','#5ec6a4','#55b7b7','#55acc2','#5b9fc9'];
ramB.forEach((d,i)=>series.push(line(2,zip(d[0],d[1]),ramBColors[i],1.5,0.3)));
const ramD = [[ramD_C18_x,ramD_C18_y],[ramD_C15_x,ramD_C15_y],[ramD_C12_x,ramD_C12_y],[ramD_D08_x,ramD_D08_y],[ramD_D12_x,ramD_D12_y]];
const ramDColors = ['#e590b0','#e495a8','#e39aa0','#e8a890','#ebb48e'];
ramD.forEach((d,i)=>series.push(line(5,zip(d[0],d[1]),ramDColors[i],1.5,0.3)));

// UV e (bottom -> top)
const uv = [uv_C18,uv_D15,uv_D12,uv_D10,uv_D08];
const uvColors = ['#ebb892','#e9ab8e','#e69b98','#e495a6','#e392b3'];
uv.forEach((d,i)=>series.push(line(6,d,uvColors[i],2.2,0.35)));

// Raman f (top -> bottom)
const ramF = [ramF_1,ramF_2,ramF_3,ramF_4,ramF_5];
const ramFColors = ['#e396b6','#df90a8','#e2969b','#e7a48f','#ebb48f'];
ramF.forEach((d,i)=>series.push(line(7,d,ramFColors[i],1.1,false)));
series.push({type:'line',xAxisIndex:7,yAxisIndex:7,data:[],silent:true,z:1,
  markArea:{silent:true,itemStyle:{color:'rgba(244,196,210,0.55)'},data:[[{xAxis:ceSulfateBand[0]},{xAxis:ceSulfateBand[1]}]]}});

// ---------------- TEXT ----------------
function T(x,y,text,fs,align,va,o){
  o = o||{};
  const st = {text,fill:INK,fontSize:fs,fontFamily:FF,align:align||'left',textAlign:align||'left',verticalAlign:va||'middle',textVerticalAlign:va||'middle'};
  if (o.rich) st.rich = richSet(fs);
  return {type:'text',x,y,rotation:o.rot||0,silent:true,z:100,style:st};
}
const g = [];
// panel letters
[['a',27,10],['b',546,12],['c',30,377],['d',547,378],['e',32,722],['f',317,727]].forEach(p=>g.push(T(p[1],p[2],p[0],28)));
// electrolyte titles
g.push(T(201,15,'Basic electrolyte',15)); g.push(T(585,14,'Basic electrolyte',15));
g.push(T(201,382,'Zn-Ce electrolyte',15)); g.push(T(585,379,'Zn-Ce electrolyte',15));
// band labels for Raman
[[37],[402]].forEach((r)=>{ g.push(T(588,r[0],'{n|Mn-OSO}{sub|3}{sup|2-}',13.5,'left','middle',{rich:true})); g.push(T(718,r[0],'Mn-O',13.5)); });
// XRD curve labels (bottom->top)
const xrdALabY = [276,240,197,153,110,73], xrdCLabY = [645,614,574,535,496,451];
xrdLabels.forEach((t,i)=>{ g.push(T(519,xrdALabY[i],t,i===0?12.5:13,'right')); g.push(T(519,xrdCLabY[i],t,i===0?12.5:13,'right')); });
// Raman labels (top->bottom)
const bLabY = [85,143,188,241,285], dLabY = [448,499,546,601,651];
ramanLabels.forEach((t,i)=>{ g.push(T(784,bLabY[i],t,13,'right')); g.push(T(784,dLabY[i],t,13,'right')); });
// UV labels (bottom->top)
const eLabY = [912,889,866,841,821];
uvLabels.forEach((t,i)=>g.push(T(307,eLabY[i],t,13,'right')));
// Ce annotations
function arrow(x1,y1,x2,y2){
  const dx=x2-x1, dy=y2-y1, L=Math.hypot(dx,dy), ux=dx/L, uy=dy/L, hl=7, hw=3;
  const bx=x2-ux*hl, by=y2-uy*hl;
  g.push({type:'line',silent:true,z:100,shape:{x1,y1,x2:bx,y2:by},style:{stroke:'#111',lineWidth:1.3}});
  g.push({type:'polygon',silent:true,z:100,shape:{points:[[x2,y2],[bx-uy*hw,by+ux*hw],[bx+uy*hw,by-ux*hw]]},style:{fill:'#111'}});
}
arrow(120,726.7,95,732.7); arrow(155,811.7,140,817.3);
g.push(T(122,725,'{n|Ce}{sup|3+}',13,'left','middle',{rich:true}));
g.push(T(157,809,'{n|Ce}{sup|4+}',13,'left','middle',{rich:true}));
g.push(T(582,734,'{n|Ce}{sub|2}{n|(SO}{sub|4}{n|)}{sub|3}',13,'left','middle',{rich:true}));
// panel f rotated labels (top->bottom)
const fAnch = [[724,778],[725.7,808.7],[724,844.7],[725.7,877.3],[727.3,909.7]];
ramFLabels.forEach((t,i)=>g.push(T(fAnch[i][0],fAnch[i][1],t,14,'left','middle',{rot:Math.PI/4})));

chart.setOption({
  animation:false,
  backgroundColor:'#fff',
  textStyle:{fontFamily:FF},
  grid:grids.map(([l,t,w,h])=>({left:l,top:t,width:w,height:h,show:true,borderColor:FRAME,borderWidth:1.5,backgroundColor:'transparent'})),
  xAxis:xAxes, yAxis:yAxes, series, graphic:{elements:g}
});
</script></body></html>
